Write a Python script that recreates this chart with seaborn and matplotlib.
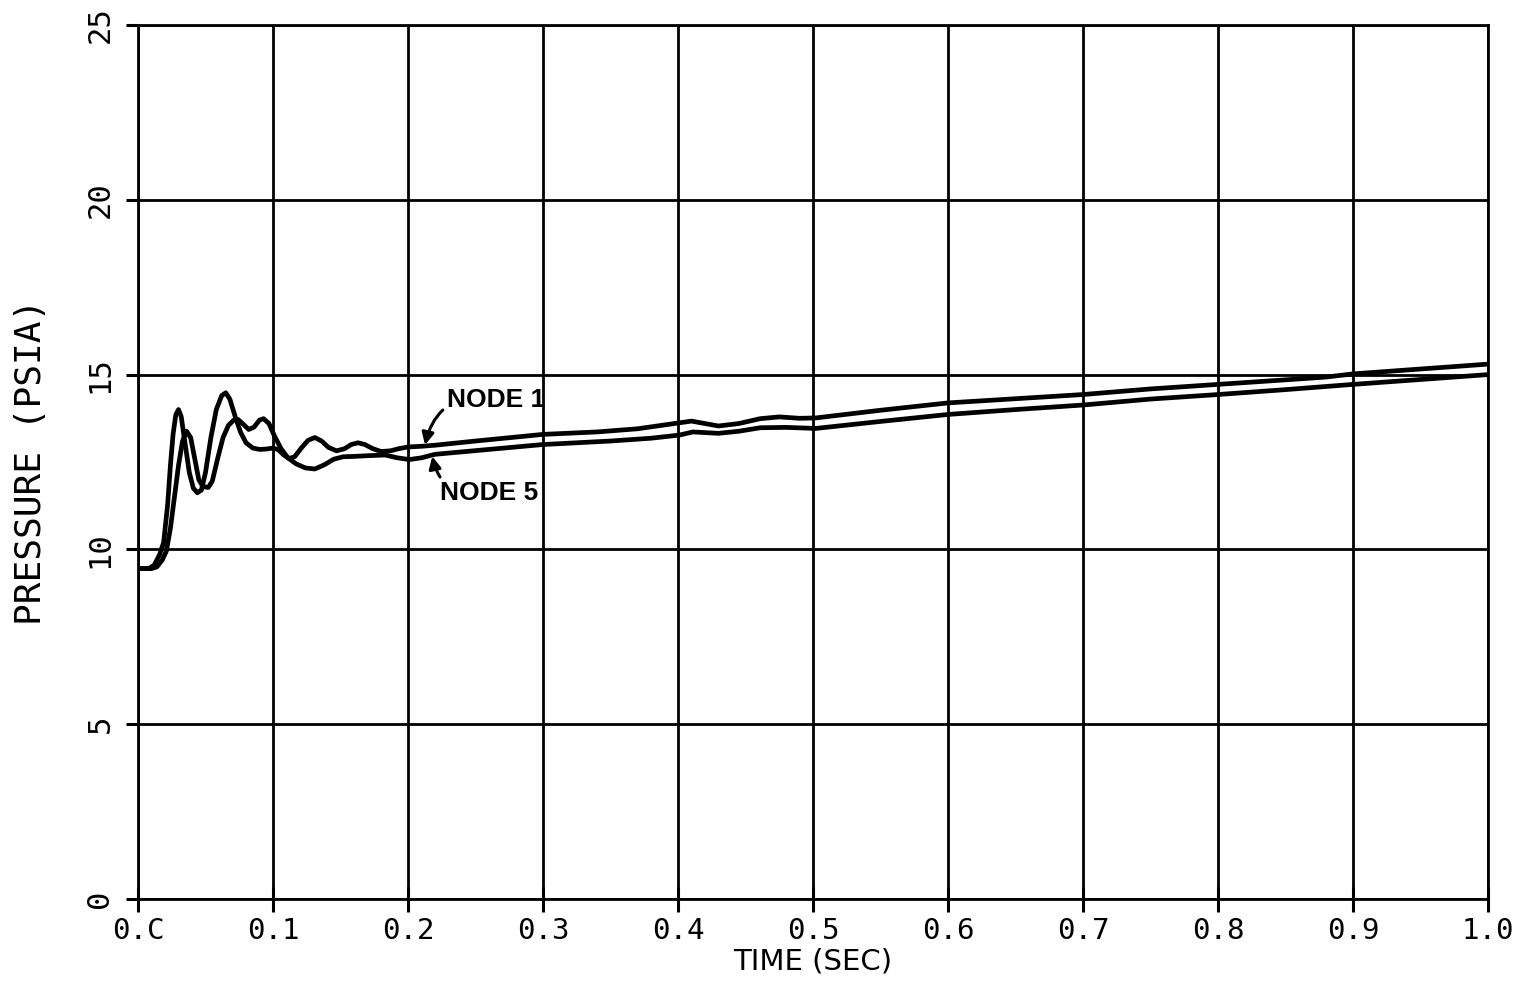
import matplotlib
matplotlib.use('Agg')
import matplotlib.pyplot as plt
import pandas as pd
import seaborn as sns

# Data (time in sec, pressure in psia)
t_node1 = [0.000, 0.008, 0.012, 0.016, 0.019, 0.022, 0.024, 0.026, 0.028, 0.030,
           0.032, 0.035, 0.038, 0.041, 0.044, 0.047, 0.050, 0.054, 0.058, 0.062,
           0.065, 0.068, 0.072, 0.076, 0.080, 0.085, 0.090, 0.095, 0.100, 0.104,
           0.108, 0.112, 0.116, 0.121, 0.126, 0.131, 0.136, 0.141, 0.147, 0.153,
           0.158, 0.163, 0.168, 0.174, 0.180, 0.187, 0.193, 0.200, 0.210, 0.220,
           0.250, 0.300, 0.340, 0.370, 0.390, 0.410, 0.430, 0.445, 0.461, 0.475,
           0.490, 0.502, 0.550, 0.600, 0.650, 0.700, 0.750, 0.800, 0.850, 0.880,
           0.900, 0.950, 1.000]
p_node1 = [9.45, 9.45, 9.55, 9.85, 10.2, 11.3, 12.4, 13.3, 13.85, 14.0,
           13.8, 13.0, 12.2, 11.75, 11.62, 11.7, 12.2, 13.2, 14.0, 14.4,
           14.48, 14.3, 13.8, 13.35, 13.05, 12.9, 12.86, 12.87, 12.9, 12.85,
           12.7, 12.6, 12.65, 12.9, 13.12, 13.2, 13.1, 12.92, 12.82, 12.88,
           13.0, 13.05, 13.0, 12.88, 12.8, 12.82, 12.88, 12.93, 12.95, 12.98,
           13.1, 13.29, 13.36, 13.45, 13.56, 13.67, 13.53, 13.6, 13.74, 13.79,
           13.75, 13.76, 13.98, 14.19, 14.31, 14.43, 14.59, 14.72, 14.85, 14.93,
           15.02, 15.16, 15.30]

t_node5 = [0.000, 0.010, 0.014, 0.018, 0.021, 0.024, 0.027, 0.030, 0.033, 0.036,
           0.039, 0.042, 0.045, 0.048, 0.052, 0.055, 0.059, 0.063, 0.067, 0.071,
           0.074, 0.078, 0.082, 0.086, 0.090, 0.093, 0.097, 0.101, 0.106, 0.111,
           0.117, 0.124, 0.131, 0.138, 0.145, 0.152, 0.160, 0.170, 0.183, 0.192,
           0.201, 0.210, 0.220, 0.260, 0.300, 0.350, 0.380, 0.401, 0.411, 0.430,
           0.445, 0.461, 0.480, 0.502, 0.550, 0.600, 0.650, 0.700, 0.750, 0.800,
           0.850, 0.900, 0.950, 1.000]
p_node5 = [9.45, 9.45, 9.5, 9.7, 9.95, 10.6, 11.5, 12.4, 13.1, 13.38,
           13.2, 12.6, 12.0, 11.8, 11.77, 11.95, 12.6, 13.2, 13.55, 13.7,
           13.72, 13.58, 13.43, 13.5, 13.7, 13.74, 13.6, 13.25, 12.88, 12.62,
           12.45, 12.33, 12.3, 12.42, 12.58, 12.65, 12.66, 12.68, 12.7, 12.62,
           12.57, 12.62, 12.72, 12.86, 13.0, 13.1, 13.18, 13.27, 13.36, 13.32,
           13.38, 13.48, 13.49, 13.46, 13.66, 13.86, 14.0, 14.13, 14.3, 14.43,
           14.57, 14.72, 14.86, 15.0]

x_ticks = [0.0, 0.1, 0.2, 0.3, 0.4, 0.5, 0.6, 0.7, 0.8, 0.9, 1.0]
x_labels = ['0.C', '0.1', '0.2', '0.3', '0.4', '0.5', '0.6', '0.7', '0.8', '0.9', '1.0']
y_ticks = [0, 5, 10, 15, 20, 25]
y_labels = ['0', '5', '10', '15', '20', '25']

df1 = pd.DataFrame({'time': t_node1, 'pressure': p_node1})
df5 = pd.DataFrame({'time': t_node5, 'pressure': p_node5})

sns.set_style('white')
plt.rcParams['text.color'] = 'black'
fig = plt.figure(figsize=(15.35, 9.86), dpi=100)
ax = fig.add_axes([138 / 1535, 1 - 899 / 986, 1350 / 1535, 874 / 986])

sns.lineplot(data=df1, x='time', y='pressure', ax=ax, color='black', linewidth=3.4, estimator=None)
sns.lineplot(data=df5, x='time', y='pressure', ax=ax, color='black', linewidth=3.4, estimator=None)

ax.set_xlim(0, 1.0)
ax.set_ylim(0, 25)
ax.set_xticks(x_ticks)
ax.set_xticklabels(x_labels, family='DejaVu Sans Mono', fontsize=21, color='black')
ax.set_yticks(y_ticks)
ax.set_yticklabels(y_labels, family='DejaVu Sans Mono', fontsize=22, rotation=90, va='center', color='black')
ax.grid(True, color='black', linewidth=2.0)
ax.tick_params(axis='x', bottom=True, direction='inout', length=18, width=2.2, pad=4, colors='black')
ax.tick_params(axis='y', left=True, direction='out', length=9, width=2.2, pad=8, colors='black')
for s in ax.spines.values():
    s.set_color('black')
    s.set_linewidth(2.0)

ax.set_xlabel('TIME (SEC)', fontsize=21, family='DejaVu Sans', color='black', labelpad=2)
ax.set_ylabel('PRESSURE (PSIA)', fontsize=26, family='DejaVu Sans Mono', color='black')
ax.yaxis.set_label_coords(-0.067, 0.5)

# curve labels
ax.annotate('NODE 1', xy=(0.2126, 12.99), xytext=(0.229, 14.26),
            fontsize=19, fontweight='bold', family='Liberation Sans', va='center', color='black',
            arrowprops=dict(arrowstyle='-|>', color='black', lw=2.2, mutation_scale=18,
                            connectionstyle='arc3,rad=0.5', shrinkA=1, shrinkB=0))
ax.annotate('NODE 5', xy=(0.218, 12.66), xytext=(0.224, 11.6),
            fontsize=19, fontweight='bold', family='Liberation Sans', va='center', color='black',
            arrowprops=dict(arrowstyle='-|>', color='black', lw=2.2, mutation_scale=18,
                            connectionstyle='arc3,rad=-0.5', shrinkA=1, shrinkB=0))

fig.savefig('out.png', dpi=100)
